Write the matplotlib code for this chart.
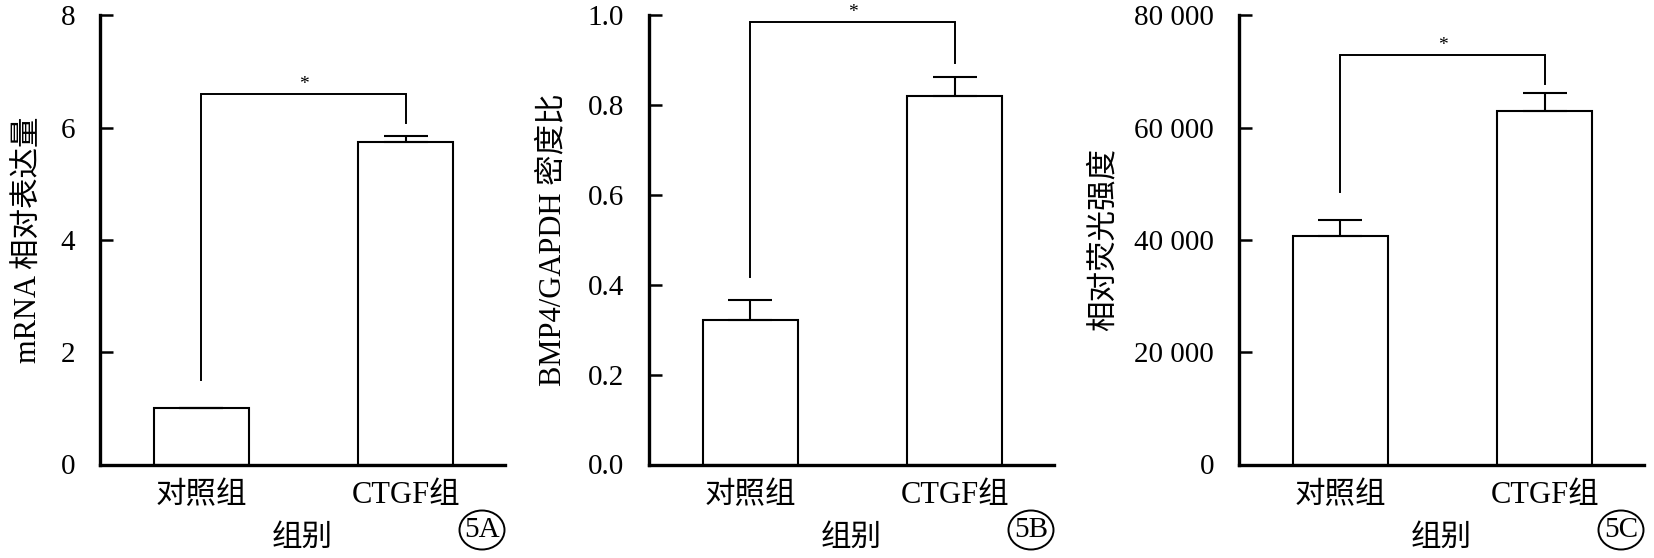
"""
Figure 5 — CTGF vs control, three bar panels (5A/5B/5C)
"""

import numpy as np
import matplotlib
matplotlib.use("Agg")
import matplotlib.pyplot as plt
from matplotlib.patches import Ellipse

# ── Data ──────────────────────────────────────────────────────────────────────
groups = ["对照组", "CTGF组"]

mrna_vals = [1.0, 5.75]
mrna_err  = [0.0, 0.10]
mrna_bracket = [6.59, 1.50, 6.08]          # top, left leg end, right leg end

bmp4_vals = [0.322, 0.821]
bmp4_err  = [0.044, 0.042]
bmp4_bracket = [0.984, 0.417, 0.893]

fluo_vals = [40700, 63000]
fluo_err  = [2800, 3200]
fluo_bracket = [72900, 48500, 67800]

mrna_ticks = [0, 2, 4, 6, 8]
bmp4_ticks = [0.0, 0.2, 0.4, 0.6, 0.8, 1.0]
fluo_ticks = [0, 20000, 40000, 60000, 80000]

mrna_ticklabels = ["0", "2", "4", "6", "8"]
bmp4_ticklabels = ["0.0", "0.2", "0.4", "0.6", "0.8", "1.0"]
fluo_ticklabels = ["0", "20 000", "40 000", "60 000", "80 000"]

ylabels = ["mRNA 相对表达量", "BMP4/GAPDH 密度比", "相对荧光强度"]
panel_tags = ["5A", "5B", "5C"]

# ── Style ─────────────────────────────────────────────────────────────────────
plt.rcParams["font.family"] = ["Liberation Serif", "Noto Sans CJK SC"]
FS = 22
W, H = 1654, 558

fig = plt.figure(figsize=(W / 100, H / 100), dpi=100)
fig.patch.set_facecolor("white")

# axes boxes in pixels: left, bottom(y from top), width, height
AX_LEFTS = [100, 649, 1239]
AX_W, AX_TOP, AX_BOT = 405, 15.3, 464.5
LABEL_X = [29, 553, 1104]                   # y-label centres (px)

panels = [
    (mrna_vals, mrna_err, mrna_bracket, mrna_ticks, mrna_ticklabels),
    (bmp4_vals, bmp4_err, bmp4_bracket, bmp4_ticks, bmp4_ticklabels),
    (fluo_vals, fluo_err, fluo_bracket, fluo_ticks, fluo_ticklabels),
]

x = np.arange(len(groups))

for i, (vals, errs, brk, ticks, tlabels) in enumerate(panels):
    left = AX_LEFTS[i]
    ax = fig.add_axes([left / W, (H - AX_BOT) / H, AX_W / W, (AX_BOT - AX_TOP) / H])

    ax.bar(x, vals, width=0.465, color="white", edgecolor="black",
           linewidth=1.5, zorder=2)
    ax.errorbar(x, vals, yerr=[np.zeros(len(vals)), errs], fmt="none",
                ecolor="black", elinewidth=1.5, capsize=16, capthick=1.5,
                zorder=3)

    # significance bracket
    top, l_end, r_end = brk
    ax.plot([x[0], x[0], x[1], x[1]], [l_end, top, top, r_end],
            color="black", lw=1.4, solid_joinstyle="miter", clip_on=False)
    ax.annotate("*", xy=((x[0] + x[1]) / 2, top), xytext=(0, 4),
                textcoords="offset points", ha="center", va="baseline",
                fontsize=14, annotation_clip=False)

    ax.set_xlim(-0.495, 1.485)
    ax.set_ylim(ticks[0], ticks[-1])
    ax.set_yticks(ticks, tlabels)
    ax.set_xticks(x, groups)

    for s in ["top", "right"]:
        ax.spines[s].set_visible(False)
    for s in ["left", "bottom"]:
        ax.spines[s].set_linewidth(2.4)

    ax.tick_params(axis="y", direction="in", length=9, width=1.8,
                   pad=18, labelsize=FS - 1)
    ax.tick_params(axis="x", length=0, pad=12, labelsize=FS)

    # y label
    fig.text(LABEL_X[i] / W, 1 - (AX_TOP + AX_BOT) / 2 / H, ylabels[i],
             rotation=90, ha="center", va="center", fontsize=FS)

    # x label
    fig.text((left + AX_W / 2) / W, 1 - 538 / H, "组别",
             ha="center", va="center", fontsize=FS)

    # circled panel tag
    cx, cy = left + AX_W - 23, 530
    fig.patches.append(Ellipse((cx / W, 1 - cy / H), 45 / W, 39 / H,
                               transform=fig.transFigure, fill=False,
                               edgecolor="black", linewidth=1.4))
    fig.text(cx / W, 1 - cy / H, panel_tags[i], ha="center", va="center",
             fontsize=FS - 1)

fig.savefig("out.png", dpi=100, facecolor="white")
